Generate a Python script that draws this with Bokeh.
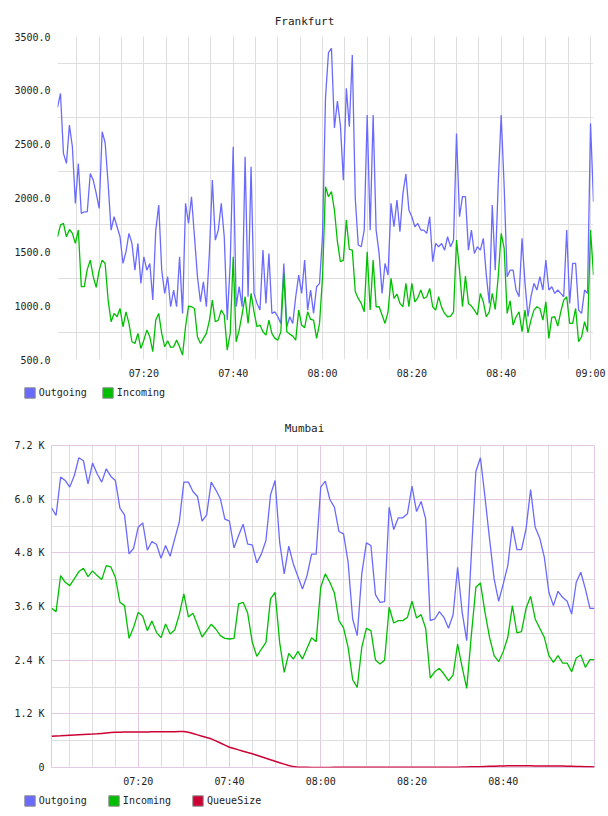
import pandas as pd
from bokeh.plotting import figure
from bokeh.models import (ColumnDataSource, FixedTicker, DatetimeTickFormatter, Range1d,
                          Legend, LegendItem, Label)
from bokeh.embed import file_html
from bokeh.resources import INLINE

# ---------------- data ----------------
# Frankfurt: samples every 40 s starting 07:00:40
fra_start = "2024-01-01 07:00:40"
fra_out = [
    2841, 2971, 2414, 2321, 2677, 2476, 1950, 2321, 1857, 1872,
    1872, 2228, 2166, 2043, 1903, 2615, 2513, 2135, 1702, 1826,
    1733, 1640, 1392, 1501, 1671, 1578, 1330, 1578, 1207, 1454,
    1330, 1392, 1052, 1702, 1934, 1330, 1114, 1269, 990, 1145,
    990, 1454, 928, 1950, 1764, 2012, 1640, 1269, 1036, 1222,
    990, 1485, 2166, 1609, 1702, 1950, 1640, 866, 1392, 2476,
    990, 1176, 990, 2383, 1083, 2290, 1114, 1021, 959, 1516,
    1021, 1485, 928, 943, 897, 835, 1392, 804, 897, 835,
    1083, 1284, 1114, 1423, 959, 1145, 928, 1176, 1207, 1650,
    2930, 3350, 3390, 2650, 2900, 2677, 2166, 3018, 2662, 3327,
    1996, 1563, 1547, 1702, 2770, 1700, 2770, 1702, 1485, 1114,
    1392, 1284, 1950, 1733, 1981, 1687, 2043, 2222, 1888, 1826,
    1733, 1764, 1702, 1702, 1671, 1826, 1408, 1578, 1547, 1578,
    1516, 1640, 1547, 1609, 2599, 1826, 2012, 2012, 1516, 1702,
    1485, 1547, 1516, 1625, 1284, 1021, 1934, 1330, 2135, 2770,
    2104, 1269, 1330, 1330, 1145, 1083, 1625, 1207, 897, 1083,
    1207, 1145, 1269, 1145, 1423, 1145, 1176, 1114, 1145, 1114,
    1083, 1702, 1021, 1392, 1392, 959, 928, 1145, 1114, 2693,
    1965,
]
fra_in = [
    1640, 1748, 1764, 1640, 1708, 1671, 1578, 1702, 1176, 1176,
    1337, 1423, 1269, 1170, 1330, 1423, 1392, 1052, 851, 928,
    897, 974, 804, 943, 835, 665, 649, 742, 603, 680,
    773, 711, 572, 866, 928, 742, 618, 674, 612, 618,
    680, 618, 541, 804, 996, 990, 974, 711, 649, 696,
    742, 860, 1052, 851, 866, 959, 913, 587, 742, 1454,
    665, 773, 922, 1083, 835, 1114, 943, 804, 820, 758,
    727, 866, 742, 696, 680, 758, 1300, 758, 736, 717,
    680, 959, 820, 795, 943, 872, 866, 696, 835, 1269,
    2104, 2012, 2060, 1888, 1594, 1408, 1423, 1795, 1522, 1516,
    1129, 1067, 1021, 943, 1501, 959, 1423, 990, 990, 913,
    835, 943, 1253, 1067, 1108, 1021, 990, 1207, 990, 1207,
    1036, 1073, 1145, 1067, 1083, 1160, 990, 959, 1083, 984,
    928, 897, 903, 943, 1609, 1330, 990, 1275, 1021, 996,
    959, 913, 1114, 1036, 897, 943, 1114, 965, 1269, 1671,
    1532, 928, 1046, 820, 897, 943, 758, 959, 748, 866,
    959, 990, 974, 866, 1036, 696, 891, 897, 810, 943,
    1052, 1083, 835, 835, 974, 665, 711, 851, 758, 1702,
    1284,
]

# Mumbai: one sample per minute starting 07:01
mum_start = "2024-01-01 07:01:00"
mum_out = [
    5806, 5635, 6493, 6418, 6269, 6530, 6926, 6859, 6344, 6806,
    6567, 6381, 6679, 6508, 6418, 5799, 5650, 4776, 4903, 5373,
    5470, 4858, 5052, 4993, 4679, 4963, 4724, 5112, 5485, 6381,
    6381, 6172, 6060, 5508, 5650, 6381, 6209, 6008, 5552, 5508,
    4911, 5187, 5441, 4993, 4978, 4575, 4776, 5075, 6097, 6418,
    5038, 4329, 4948, 4552, 4269, 3993, 4291, 4769, 4769, 6269,
    6403, 5993, 5821, 5276, 5224, 4590, 3321, 2948, 4329, 5023,
    4963, 3866, 3694, 3709, 5821, 5321, 5582, 5582, 5672, 6291,
    5724, 5948, 5560, 3284, 3321, 3485, 3358, 3112, 3411, 4478,
    3470, 2836, 4739, 6620, 6926, 6045, 5112, 4217, 3717, 4105,
    4515, 5396, 4873, 4873, 5336, 6217, 5373, 5127, 4702, 3918,
    3620, 3940, 3806, 3717, 3433, 4142, 4366, 3993, 3560, 3560,
]
mum_in = [
    3560, 3485, 4291, 4142, 4067, 4217, 4381, 4455, 4269, 4396,
    4291, 4202, 4515, 4485, 4254, 3694, 3620, 2888, 3134, 3470,
    3381, 3060, 3276, 3022, 2903, 3209, 2985, 3075, 3418, 3881,
    3366, 3448, 3187, 2918, 3060, 3202, 3097, 2948, 2888, 2873,
    2888, 3657, 3694, 3448, 2799, 2485, 2649, 2799, 3769, 3918,
    2799, 2127, 2552, 2425, 2597, 2425, 2664, 2903, 2814, 4030,
    4329, 4142, 3903, 3284, 3120, 2687, 1963, 1791, 2687, 3112,
    3060, 2403, 2314, 2403, 3582, 3231, 3284, 3284, 3358, 3717,
    3343, 3418, 3112, 2000, 2142, 2217, 2090, 1940, 2067, 2761,
    2239, 1769, 2948, 4030, 4127, 3470, 2911, 2500, 2366, 2590,
    2911, 3620, 3008, 3037, 3560, 3828, 3321, 3112, 2911, 2500,
    2351, 2500, 2336, 2336, 2142, 2448, 2515, 2239, 2411, 2411,
]
mum_queue = [
    699, 705, 710, 716, 722, 728, 734, 739, 744, 748,
    753, 762, 771, 780, 789, 790, 791, 792, 793, 794,
    795, 796, 797, 798, 799, 800, 801, 802, 803, 804,
    790, 760, 730, 700, 670, 641, 594, 547, 500, 454,
    424, 394, 365, 335, 306, 272, 239, 205, 172, 140,
    108, 76, 44, 20, 8, 4, 3, 2, 2, 2,
    2, 2, 3, 3, 3, 3, 3, 3, 3, 4,
    4, 4, 4, 4, 4, 4, 4, 4, 4, 4,
    5, 5, 5, 5, 5, 5, 6, 6, 6, 8,
    10, 12, 14, 16, 18, 22, 26, 30, 34, 36,
    38, 38, 38, 38, 38, 38, 36, 36, 36, 35,
    34, 33, 32, 30, 28, 25, 22, 18, 14, 10,
]

# axis ticks
fra_y_ticks = [500, 1000, 1500, 2000, 2500, 3000, 3500]
fra_y_labels = ["500.0", "1000.0", "1500.0", "2000.0", "2500.0", "3000.0", "3500.0"]
fra_y_grid = [750, 1250, 1750, 2250, 2750, 3250]
fra_x_ticks = ["07:20", "07:40", "08:00", "08:20", "08:40", "09:00"]

mum_y_ticks = [0, 1200, 2400, 3600, 4800, 6000, 7200]
mum_y_labels = ["0", "1.2 K", "2.4 K", "3.6 K", "4.8 K", "6.0 K", "7.2 K"]
mum_y_grid = [600, 1800, 3000, 4200, 5400, 6600]
mum_x_ticks = ["07:20", "07:40", "08:00", "08:20", "08:40"]

series_names = ["Outgoing", "Incoming", "QueueSize"]

# ---------------- style ----------------
W = 608
FONT = "DejaVu Sans Mono"
TXT = "#222222"
BLUE = "#6a6aff"
GREEN = "#00bf00"
RED = "#cc0033"
GRID = "#dedede"
PINK = "#e2c8e2"
DAY = "2024-01-01 "
NAN = float("nan")


def ms(hhmm):
    return pd.Timestamp(DAY + hhmm).value // 10**6


def five_minute_marks(first, last):
    t = pd.date_range(DAY + first, DAY + last, freq="5min")
    return [v.value // 10**6 for v in t]


time_fmt = DatetimeTickFormatter(seconds="%H:%M", minsec="%H:%M", minutes="%H:%M",
                                 hourmin="%H:%M", hours="%H:%M")


def style_axes(p, y_ticks, y_labels, y_minor, x_major, x_minor):
    p.yaxis.ticker = FixedTicker(ticks=y_ticks, minor_ticks=y_minor)
    p.yaxis.major_label_overrides = dict(zip(y_ticks, y_labels))
    p.xaxis.ticker = FixedTicker(ticks=x_major, minor_ticks=x_minor)
    p.xaxis.formatter = time_fmt
    for ax in (p.xaxis, p.yaxis):
        ax.axis_line_color = None
        ax.major_tick_line_color = None
        ax.minor_tick_line_color = None
        ax.major_tick_out = 0
        ax.major_tick_in = 0
        ax.minor_tick_out = 0
        ax.major_label_text_font = FONT
        ax.major_label_text_font_size = "10px"
        ax.major_label_text_color = TXT
    p.yaxis.major_label_standoff = 7
    p.xaxis.major_label_standoff = 8


def strip(height):
    """Plain full-width strip (no axes) used for a chart title or its legend."""
    s = figure(width=W, height=height, output_backend="svg", toolbar_location=None,
               title=None, x_range=Range1d(0, W), y_range=Range1d(0, height),
               x_axis_location=None, y_axis_location=None, min_border=0)
    s.outline_line_color = None
    s.grid.visible = False
    return s


def title_strip(text, height, center_from_top):
    s = strip(height)
    s.add_layout(Label(x=W / 2, y=height - center_from_top, x_units="screen", y_units="screen",
                       text=text, text_align="center", text_baseline="middle",
                       text_font=FONT, text_font_size="11px", text_color=TXT))
    return s


def legend_strip(colors, height, left, center_from_top, spacing):
    s = strip(height)
    items = []
    for name, c in zip(series_names, colors):
        # swatch renderer: one undefined point, so only its legend box is drawn
        r = s.quad(left=[NAN], right=[NAN], top=[NAN], bottom=[NAN], fill_color=c,
                   line_color="#8c8c8c", line_width=1)
        items.append(LegendItem(label=name, renderers=[r]))
    gh = 13
    leg = Legend(items=items, location=(left, height - center_from_top - gh / 2),
                 orientation="horizontal", padding=0, margin=0, spacing=spacing,
                 glyph_width=13, glyph_height=gh, label_standoff=3, label_height=gh,
                 label_text_font=FONT, label_text_font_size="10px", label_text_color=TXT,
                 border_line_color=None, background_fill_alpha=0)
    s.add_layout(leg)
    return s


# ---------------- Frankfurt ----------------
fra_t = pd.date_range(fra_start, periods=len(fra_out), freq="40s")
fra_src = ColumnDataSource(dict(t=fra_t, out=fra_out, inc=fra_in))

p1 = figure(width=W, height=354, x_axis_type="datetime", output_backend="svg",
            toolbar_location=None, title=None, x_range=Range1d(fra_t[0], fra_t[-1]),
            y_range=Range1d(fra_y_ticks[0], fra_y_ticks[-1]),
            min_border_left=57, min_border_right=15, min_border_top=8, min_border_bottom=23)
p1.outline_line_color = None
style_axes(p1, fra_y_ticks, fra_y_labels, fra_y_grid,
           [ms(s) for s in fra_x_ticks], five_minute_marks("07:05", "09:00"))
p1.xgrid.grid_line_color = GRID
p1.xgrid.minor_grid_line_color = GRID
p1.ygrid.grid_line_color = None
p1.ygrid.minor_grid_line_color = GRID

p1.line("t", "out", source=fra_src, line_color=BLUE, line_width=1.3)
p1.line("t", "inc", source=fra_src, line_color=GREEN, line_width=1.3)

t1 = title_strip("Frankfurt", 28, 20.5)
l1 = legend_strip([BLUE, GREEN], 28, 22.7, 10, 14)

# ---------------- Mumbai ----------------
mum_t = pd.date_range(mum_start, periods=len(mum_out), freq="60s")
mum_src = ColumnDataSource(dict(t=mum_t, out=mum_out, inc=mum_in, queue=mum_queue))

p2 = figure(width=W, height=353, x_axis_type="datetime", output_backend="svg",
            toolbar_location=None, title=None, x_range=Range1d(mum_t[0], mum_t[-1]),
            y_range=Range1d(mum_y_ticks[0], mum_y_ticks[-1]),
            min_border_left=51, min_border_right=14, min_border_top=8, min_border_bottom=23)
p2.outline_line_color = PINK
mum_major_ms = [ms(s) for s in mum_x_ticks]
style_axes(p2, mum_y_ticks, mum_y_labels, mum_y_grid, mum_major_ms,
           [m for m in five_minute_marks("07:05", "08:55") if m not in mum_major_ms])
p2.xgrid.grid_line_color = PINK
p2.xgrid.minor_grid_line_color = GRID
p2.ygrid.grid_line_color = PINK
p2.ygrid.minor_grid_line_color = GRID

p2.line("t", "out", source=mum_src, line_color=BLUE, line_width=1.3)
p2.line("t", "inc", source=mum_src, line_color=GREEN, line_width=1.3)
p2.line("t", "queue", source=mum_src, line_color=RED, line_width=1.5)

t2 = title_strip("Mumbai", 27, 18.3)
l2 = legend_strip([BLUE, GREEN, RED], 26, 22.7, 10, 20)

# each panel is its own root, stacked top to bottom on the page
open("out.html", "w").write(file_html([t1, p1, l1, t2, p2, l2], INLINE))
